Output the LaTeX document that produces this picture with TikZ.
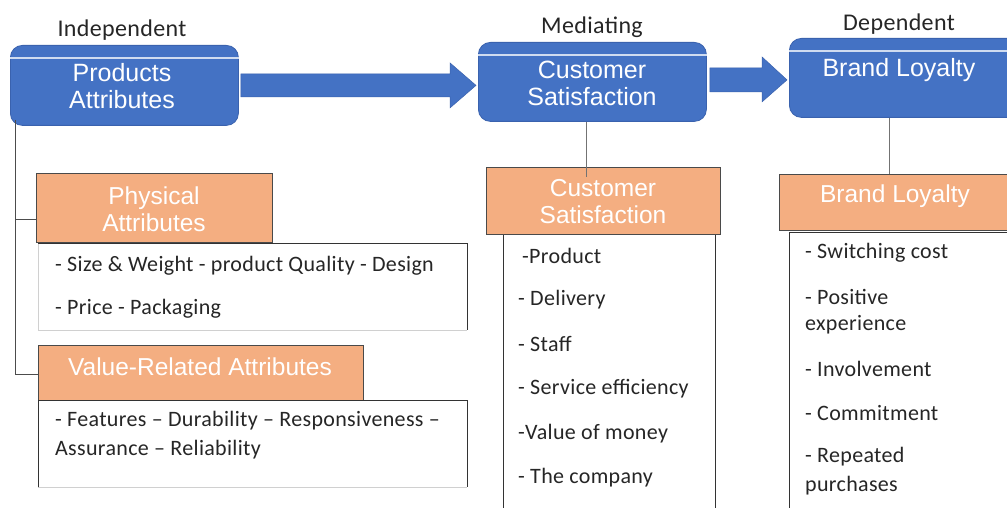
\documentclass[tikz,border=0pt]{standalone}
\usepackage{fontspec}
\setmainfont{Carlito}[LetterSpace=1.5]
\newfontfamily\headfont{Liberation Sans}
\usetikzlibrary{calc}
\definecolor{boxblue}{HTML}{4472C4}
\definecolor{boxblueedge}{HTML}{3A62AE}
\definecolor{tanfill}{HTML}{F4AE81}
\definecolor{tanedge}{HTML}{4A4A4A}
\definecolor{listedge}{HTML}{333333}
\definecolor{listbottom}{HTML}{D0D0D0}

\tikzset{
  varbox/.style={draw=boxblueedge, fill=boxblue, rounded corners=12pt, line width=0.8pt,
    anchor=north west, inner sep=0pt},
  vartext/.style={font=\headfont\fontsize{25}{27}\selectfont, text=white, align=center},
  catbox/.style={draw=tanedge, fill=tanfill, line width=0.9pt, anchor=north west, inner sep=0pt},
  cattext/.style={font=\headfont\fontsize{24.5}{27}\selectfont, text=white, align=center},
  listbox/.style={anchor=north west, inner sep=0pt},
  itemtext/.style={font=\fontsize{22}{26}\selectfont, text=black!85, anchor=west, inner sep=0pt},
  roletext/.style={font=\fontsize{24}{27}\selectfont, text=black!85},
  blockarrow/.style={fill=boxblue, draw=boxblueedge, line width=0.5pt},
  link/.style={draw=black!70, line width=1pt},
  thinlink/.style={draw=black!55, line width=1pt},
  topline/.style={draw=white!75!boxblue, line width=1.2pt}
}

\begin{document}
\begin{tikzpicture}[x=1pt,y=-1pt]
\useasboundingbox[fill=white] (0,0) rectangle (1007,508);

% role labels
\node[roletext] (indep) at (122,30) {Independent};
\node[roletext] (media) at (592,27) {Mediating};
\node[roletext] (depen) at (899,24) {Dependent};

% blue variable boxes
\node[varbox, minimum width=228pt, minimum height=80pt] (pa) at (10,45) {};
\node[varbox, minimum width=228pt, minimum height=79pt] (cs) at (478,42) {};
\node[varbox, minimum width=240pt, minimum height=79pt] (bl) at (789,38) {};
\draw[topline] ($(pa.north west)+(0,13)$) -- ($(pa.north east)+(0,13)$);
\draw[topline] ($(cs.north west)+(0,13)$) -- ($(cs.north east)+(0,13)$);
\draw[topline] ($(bl.north west)+(0,13)$) -- ($(bl.north east)+(0,13)$);
\node[vartext] (paT) at (122,86) {Products\\Attributes};
\node[vartext] (csT) at (592,83) {Customer\\Satisfaction};
\node[vartext] (blT) at (899,70) {Brand Loyalty};

% block arrows between the variables
\fill[blockarrow]
  ($(pa.east)+(2,-11.5)$) -- ($(cs.west |- pa.east)+(-28,-11.5)$)
  -- ($(cs.west |- pa.east)+(-28,-22.5)$) -- ($(cs.west |- pa.east)+(-2,0)$)
  -- ($(cs.west |- pa.east)+(-28,22.5)$) -- ($(cs.west |- pa.east)+(-28,11.5)$)
  -- ($(pa.east)+(2,11.5)$) -- cycle;
\coordinate (a2) at ($(cs.east)+(0,-2)$);
\fill[blockarrow]
  ($(a2)+(3,-12)$) -- ($(bl.west |- a2)+(-27,-12)$)
  -- ($(bl.west |- a2)+(-27,-23)$) -- ($(bl.west |- a2)+(-2,0)$)
  -- ($(bl.west |- a2)+(-27,22)$) -- ($(bl.west |- a2)+(-27,12)$)
  -- ($(a2)+(3,12)$) -- cycle;

% Products Attributes dimensions
\node[catbox, minimum width=236pt, minimum height=69pt] (phys) at (36,173) {};
\node[cattext] (physT) at (154,209) {Physical\\Attributes};
\node[listbox, minimum width=429pt, minimum height=87pt] (physL) at (38,243) {};
\draw[listbottom, line width=1pt] (physL.north west) -- (physL.south west) -- (physL.south east);
\draw[listedge, line width=1pt] (physL.north west) -- (physL.north east) -- (physL.south east);
\node[itemtext] (p1) at (55,266) {- Size \& Weight - product Quality - Design};
\node[itemtext] (p2) at (55,309) {- Price - Packaging};

\node[catbox, minimum width=325pt, minimum height=55pt] (valr) at (38,345) {};
\node[cattext] (valrT) at (200,367) {Value-Related Attributes};
\node[listbox, minimum width=429pt, minimum height=87pt] (valrL) at (38,400) {};
\draw[listbottom, line width=1pt] (valrL.south west) -- (valrL.south east);
\draw[listedge, line width=1pt] (valrL.south west) -- (valrL.north west) -- (valrL.north east) -- (valrL.south east);
\node[itemtext] (v1) at (55,421) {- Features – Durability – Responsiveness –};
\node[itemtext] (v2) at (55,450) {Assurance – Reliability};

% Customer Satisfaction dimensions
\node[listbox, minimum width=212pt, minimum height=280pt] (csL) at (503,234) {};
\draw[listedge, line width=1pt] (csL.south west) -- (csL.north west) -- (csL.north east) -- (csL.south east);
\node[catbox, minimum width=234pt, minimum height=67pt] (csC) at (486,167) {};
\node[cattext] (csCT) at (603,202) {Customer\\Satisfaction};
\node[itemtext] (c1) at (522,256) {-Product};
\node[itemtext] (c2) at (518,300) {- Delivery};
\node[itemtext] (c3) at (518,344) {- Staff};
\node[itemtext] (c4) at (518,389) {- Service efficiency};
\node[itemtext] (c5) at (518,434) {-Value of money};
\node[itemtext] (c6) at (518,478) {- The company};

% Brand Loyalty dimensions
\node[listbox, minimum width=230pt, minimum height=290pt] (blL) at (789,232) {};
\draw[listedge, line width=1pt] (blL.south west) -- (blL.north west) -- (blL.north east);
\node[catbox, minimum width=240pt, minimum height=56pt] (blC) at (779,174) {};
\node[cattext] (blCT) at (895,196) {Brand Loyalty};
\node[itemtext] (b1) at (805,253) {- Switching cost};
\node[itemtext] (b2) at (805,297) {- Positive};
\node[itemtext] (b3) at (805,325) {experience};
\node[itemtext] (b4) at (805,369) {- Involvement};
\node[itemtext] (b5) at (805,413) {- Commitment};
\node[itemtext] (b6) at (805,457) {- Repeated};
\node[itemtext] (b7) at (805,486) {purchases};

% connectors
\coordinate (trunkBot) at (15,374);
\draw[link] ($(pa.south west)+(5,-6)$) |- (trunkBot) -- (trunkBot -| valr.west);
\draw[link] (15,219) -- (15,219 -| phys.west);
\draw[thinlink] (cs.south -| 586,0) -- (586,177);
\draw[thinlink] (bl.south -| 889,0) -- (blC.north -| 889,0);
\end{tikzpicture}
\end{document}
